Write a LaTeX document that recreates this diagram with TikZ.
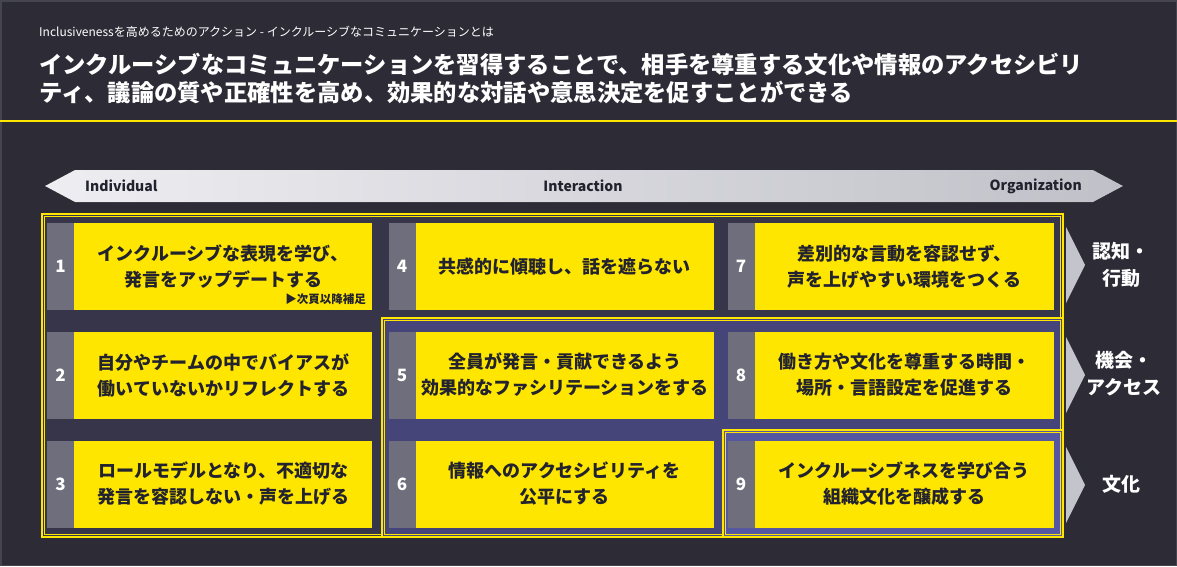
\documentclass[tikz,border=0pt]{standalone}
\usepackage{fontspec}
\setmainfont{Noto Sans CJK JP}
\definecolor{bgc}{HTML}{2C2B36}
\definecolor{ylw}{HTML}{FFE600}
\definecolor{tabc}{HTML}{6F6E7C}
\definecolor{fA}{HTML}{37354A}
\definecolor{fB}{HTML}{45457A}
\definecolor{fC}{HTML}{5558A0}
\definecolor{txt}{HTML}{23232F}
\definecolor{chev}{HTML}{C4C4CC}
\definecolor{barL}{HTML}{EEEEF2}
\definecolor{barR}{HTML}{C0C0C8}
\definecolor{edgec}{HTML}{454550}
\begin{document}
\begin{tikzpicture}[x=1pt,y=-1pt,
  tabbox/.style={fill=tabc, minimum width=27pt, minimum height=87pt, inner sep=0pt, text=white, font=\bfseries\fontsize{17}{20}\selectfont},
  ybox/.style={fill=ylw, minimum width=298pt, minimum height=87pt, inner sep=0pt, anchor=west, text=txt, align=center, font=\bfseries\fontsize{18}{26}\selectfont},
  frameout/.style={draw=ylw, line width=1.8pt},
  framein/.style={draw=ylw, line width=0.8pt},
  sidelab/.style={text=white, align=center, inner sep=0pt, font=\bfseries\fontsize{19}{27}\selectfont},
  barlab/.style={text=txt, inner sep=0pt, font=\bfseries\fontsize{14}{16}\selectfont},
  titletext/.style={text=white, anchor=west, inner sep=0pt, font=\bfseries\fontsize{23.3}{28}\selectfont}
]
\useasboundingbox (0,0) rectangle (1177,566);
\fill[bgc] (0,0) rectangle (1177,566);
\draw[edgec, line width=1.5pt] (0.75,0.75) rectangle (1176.25,565.25);

% header
\node[text=white, anchor=west, inner sep=0pt, font=\fontsize{12}{14}\selectfont] (sub) at (39,32) {Inclusivenessを高めるためのアクション - インクルーシブなコミュニケーションとは};
\node[titletext] (title1) at (39,64) {インクルーシブなコミュニケーションを習得することで、相手を尊重する文化や情報のアクセシビリ};
\node[titletext] (title2) at (39,92) {ティ、議論の質や正確性を高め、効果的な対話や意思決定を促すことができる};
\draw[ylw, line width=2pt] (0,121) -- (1177,121);

% arrow bar
\fill[left color=barL, right color=barR] (45,186) -- (75,170) -- (1093,170) -- (1123,186) -- (1093,202) -- (75,202) -- cycle;
\node[barlab, anchor=west] (ind) at (85,186) {Individual};
\node[barlab] (inter) at (583,186) {Interaction};
\node[barlab, anchor=east] (org) at (1082,186) {Organization};

% frames
\fill[fA] (42,214) rectangle (1063,537);
\draw[frameout] (42,214) rectangle (1063,537);
\draw[framein] (44.8,216.8) rectangle (1060.2,534.2);
\fill[fB] (382,318) rectangle (1063,537);
\draw[frameout] (382,318) rectangle (1063,537);
\draw[framein] (384.8,320.8) rectangle (1060.2,534.2);
\fill[fC] (723,430) rectangle (1063,537);
\draw[frameout] (723,430) rectangle (1063,537);
\draw[framein] (725.8,432.8) rectangle (1060.2,534.2);

% column 1
\node[tabbox] (t1) at (60.5,266.5) {1};
\node[ybox] (b1) at (t1.east) {インクルーシブな表現を学び、\\発言をアップデートする};
\node[anchor=east, inner sep=0pt, text=txt, font=\bfseries\fontsize{11.5}{13}\selectfont] (n1) at (366,299) {▶次頁以降補足};
\node[tabbox] (t2) at (60.5,375) {2};
\node[ybox] (b2) at (t2.east) {自分やチームの中でバイアスが\\働いていないかリフレクトする};
\node[tabbox] (t3) at (60.5,484) {3};
\node[ybox] (b3) at (t3.east) {ロールモデルとなり、不適切な\\発言を容認しない・声を上げる};

% column 2
\node[tabbox] (t4) at (402,266.5) {4};
\node[ybox] (b4) at (t4.east) {共感的に傾聴し、話を遮らない};
\node[tabbox] (t5) at (402,375) {5};
\node[ybox] (b5) at (t5.east) {全員が発言・貢献できるよう\\効果的なファシリテーションをする};
\node[tabbox] (t6) at (402,484) {6};
\node[ybox] (b6) at (t6.east) {情報へのアクセシビリティを\\公平にする};

% column 3
\node[tabbox] (t7) at (741,266.5) {7};
\node[ybox, minimum width=299pt] (b7) at (t7.east) {差別的な言動を容認せず、\\声を上げやすい環境をつくる};
\node[tabbox] (t8) at (741,375) {8};
\node[ybox, minimum width=299pt] (b8) at (t8.east) {働き方や文化を尊重する時間・\\場所・言語設定を促進する};
\node[tabbox] (t9) at (741,484) {9};
\node[ybox, minimum width=299pt] (b9) at (t9.east) {インクルーシブネスを学び合う\\組織文化を醸成する};

% chevrons
\fill[chev] (1066,227) -- (1085,265) -- (1066,303) -- cycle;
\fill[chev] (1066,337) -- (1085,375) -- (1066,413) -- cycle;
\fill[chev] (1066,447) -- (1085,485) -- (1066,523) -- cycle;

% side labels
\node[sidelab] (l1) at (1121,265) {認知・\\行動};
\node[sidelab] (l2) at (1124,374) {機会・\\アクセス};
\node[sidelab] (l3) at (1121,484) {文化};
\end{tikzpicture}
\end{document}
